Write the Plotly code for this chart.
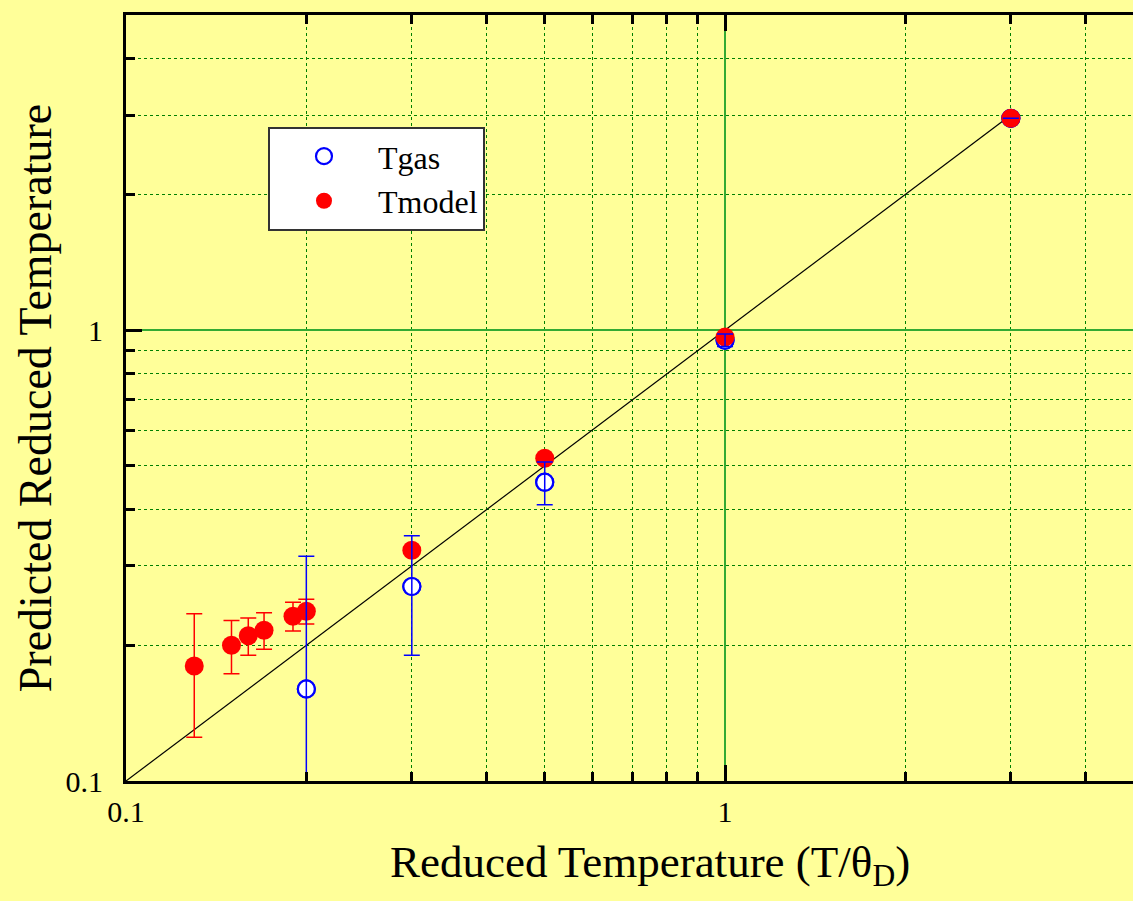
import plotly.graph_objects as go

# Reduced temperature T/theta_D and predicted values
x_gas = [0.2, 0.3, 0.5, 1.0, 3.0]
y_gas = [0.16, 0.27, 0.46, 0.95, 2.95]
err_gas_plus = [0.155, 0.08, 0.05, 0.03, 0.0]
err_gas_minus = [0.1, 0.08, 0.05, 0.03, 0.0]

x_model = [0.13, 0.15, 0.16, 0.17, 0.19, 0.2, 0.3, 0.5, 1.0, 3.0]
y_model = [0.18, 0.20, 0.21, 0.216, 0.232, 0.238, 0.325, 0.52, 0.965, 2.95]
err_model = [0.055, 0.027, 0.02, 0.02, 0.017, 0.015, 0.0, 0.0, 0.0, 0.0]

ideal_x = [0.1, 3.0]

BG = "#FFFF99"
FONT = "Liberation Serif"

fig = go.Figure()

# y = x reference line
fig.add_trace(go.Scatter(x=ideal_x, y=ideal_x, mode="lines",
                         line=dict(color="black", width=1.2),
                         showlegend=False, hoverinfo="skip"))

fig.add_trace(go.Scatter(
    x=x_gas, y=y_gas, mode="markers", name="Tgas",
    marker=dict(symbol="circle-open", size=17, color="#0000FF",
                line=dict(width=2.2, color="#0000FF")),
    showlegend=True))
# white fill behind the open circles
fig.add_trace(go.Scatter(
    x=x_gas, y=y_gas, mode="markers", showlegend=False, hoverinfo="skip",
    marker=dict(symbol="circle", size=17, color="white",
                line=dict(width=2.2, color="#0000FF"))))

fig.add_trace(go.Scatter(
    x=x_model, y=y_model, mode="markers", name="Tmodel",
    marker=dict(symbol="circle", size=19, color="#FF0000",
                line=dict(width=0)),
    error_y=dict(type="data", array=err_model, color="#FF0000",
                 thickness=1.5, width=8)))

# Tgas error bars drawn on top
fig.add_trace(go.Scatter(
    x=x_gas, y=y_gas, mode="markers", showlegend=False, hoverinfo="skip",
    marker=dict(size=1, color="rgba(0,0,0,0)"),
    error_y=dict(type="data", symmetric=False, array=err_gas_plus,
                 arrayminus=err_gas_minus, color="#0000FF",
                 thickness=1.5, width=8)))

grid_green = "#008000"

axis_common = dict(
    type="log", dtick=1,
    ticks="inside", ticklen=16, tickwidth=3, tickcolor="black",
    showline=True, linecolor="black", linewidth=3,
    showgrid=True, gridcolor="#33AA33", gridwidth=1.5,
    zeroline=False,
    minor=dict(ticks="inside", ticklen=9, tickwidth=3, tickcolor="black",
               showgrid=True, gridcolor=grid_green, griddash="dot", gridwidth=1,
               dtick="D1"),
    tickfont=dict(family=FONT, size=30, color="black"),
)

fig.update_xaxes(range=[-1, 0.681], mirror="ticks", ticklabelstandoff=2,
                 **axis_common)
fig.update_yaxes(
    range=[-1, 0.699], mirror=False, ticklabelstandoff=14,
    title=dict(text="Predicted Reduced Temperature",
               font=dict(family=FONT, size=46, color="black"), standoff=0),
    **axis_common,
)

# x-axis title
fig.add_annotation(
    text="Reduced Temperature (T/θ<sub>D</sub>)",
    xref="paper", yref="paper", x=0.52, y=-0.071,
    xanchor="center", yanchor="top", showarrow=False,
    font=dict(family=FONT, size=45, color="black"),
)

fig.update_layout(
    width=1133, height=901,
    margin=dict(l=126, r=0, t=15, b=120),
    paper_bgcolor=BG, plot_bgcolor=BG,
    font=dict(family=FONT, color="black"),
    legend=dict(x=0.141, y=0.854, xanchor="left", yanchor="top",
                bgcolor="white", bordercolor="#333333", borderwidth=2,
                font=dict(family=FONT, size=32, color="black"),
                itemwidth=98, tracegroupgap=0),
)

fig.write_html("out.html")
